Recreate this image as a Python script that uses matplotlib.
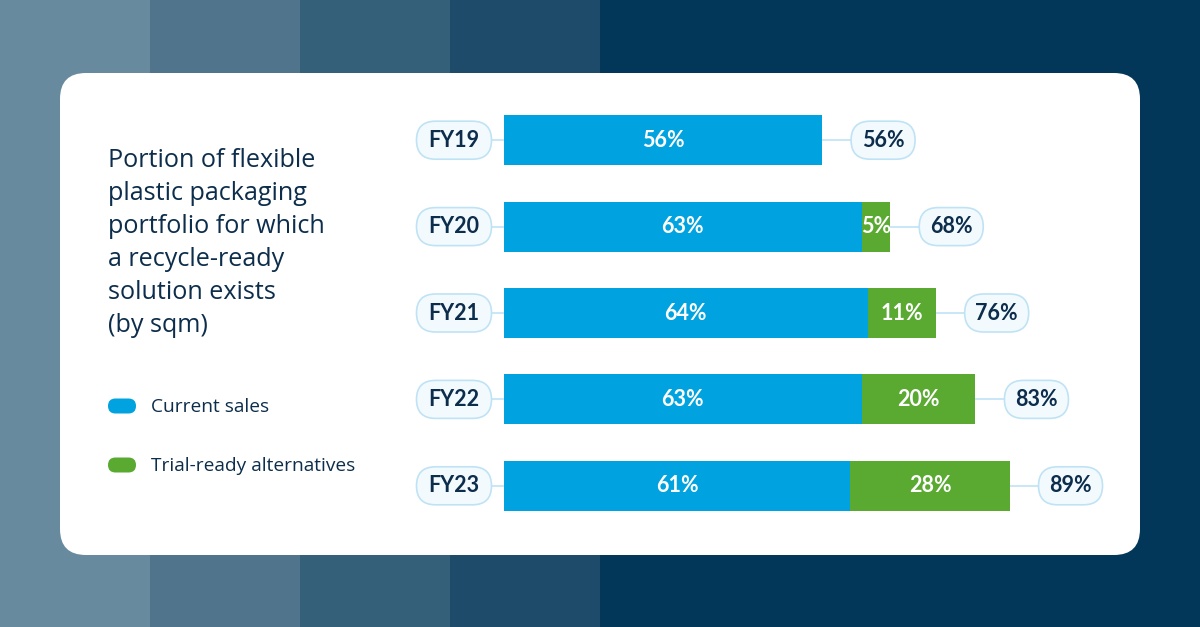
import matplotlib
matplotlib.use('Agg')
import matplotlib.pyplot as plt
from matplotlib.patches import Rectangle, FancyBboxPatch

plt.rcParams['font.family'] = ['Lato', 'DejaVu Sans']

# ── Data ──────────────────────────────────────────────────────────────────────
years = ['FY19', 'FY20', 'FY21', 'FY22', 'FY23']
current = [56, 63, 64, 63, 61]
trial = [0, 5, 11, 20, 28]
totals = [56, 68, 76, 83, 89]

title_lines = ['Portion of flexible', 'plastic packaging', 'portfolio for which',
               'a recycle-ready', 'solution exists', '(by sqm)']
legend_labels = ['Current sales', 'Trial-ready alternatives']

BLUE = '#00A3E0'
GREEN = '#5AAA32'
NAVY = '#0C2D4B'
PILL_FC = '#F3FAFE'
PILL_EC = '#BFE3F5'
BODY_FONT = ['Open Sans', 'DejaVu Sans']

W, H = 1200, 627
fig = plt.figure(figsize=(W / 100, H / 100), dpi=100)

# ── Background (pixel coords) ─────────────────────────────────────────────────
bg = fig.add_axes([0, 0, 1, 1])
bg.set_xlim(0, W); bg.set_ylim(H, 0); bg.axis('off')
for x0, x1, c in [(0, 150, '#688A9F'), (150, 300, '#50748B'), (300, 450, '#356079'),
                  (450, 600, '#1E4B6A'), (600, 1200, '#02375A')]:
    bg.add_patch(Rectangle((x0, 0), x1 - x0, H, color=c, lw=0))
bg.add_patch(FancyBboxPatch((60, 73), 1080, 482, boxstyle='round,pad=0,rounding_size=26',
                            fc='white', ec='none'))

for k, line in enumerate(title_lines):
    bg.text(108, 167 + 33 * k, line, fontsize=18.1, color=NAVY, va='baseline',
            ha='left', family=BODY_FONT)
for yy, lab, c in [(406, legend_labels[0], BLUE), (465, legend_labels[1], GREEN)]:
    bg.add_patch(FancyBboxPatch((108, yy - 7.5), 28, 15, boxstyle='round,pad=0,rounding_size=7.5',
                                fc=c, ec='none'))
    bg.text(151, yy + 1, lab, fontsize=13.8, color=NAVY, va='center', ha='left',
            family=BODY_FONT)

# ── Bars ──────────────────────────────────────────────────────────────────────
ax_px = (504, 97, 568, 432)  # left, top, width, height in pixels
ax = fig.add_axes([ax_px[0] / W, (H - ax_px[1] - ax_px[3]) / H, ax_px[2] / W, ax_px[3] / H])
ax.set_xlim(0, 100); ax.set_ylim(len(years) - 0.5, -0.5); ax.axis('off')
ypos = list(range(len(years)))
bh = 0.58
ax.barh(ypos, current, height=bh, color=BLUE, zorder=3)
ax.barh(ypos, [t - c for t, c in zip(totals, current)], left=current, height=bh,
        color=GREEN, zorder=3)

# pill geometry: px per data unit in x / y
sx = ax_px[2] / 100
sy = ax_px[3] / len(years)
pill_h = 38 / sy


def pill(xc, yc, w_px, text):
    w = w_px / sx
    p = FancyBboxPatch((xc - w / 2, yc - pill_h / 2), w, pill_h,
                       boxstyle=f'round,pad=0,rounding_size={19 / sx}',
                       mutation_aspect=sx / sy, fc=PILL_FC, ec=PILL_EC, lw=1.2,
                       zorder=2, clip_on=False)
    ax.add_patch(p)
    ax.text(xc, yc, text, color=NAVY, fontsize=15.5, fontweight='bold',
            ha='center', va='center', zorder=3, clip_on=False)


for i, (yr, c, t, tot) in enumerate(zip(years, current, trial, totals)):
    ax.text(c / 2, i, f'{c}%', color='white', fontsize=15.5, fontweight='bold',
            ha='center', va='center', zorder=4)
    if t:
        ax.text(c + (tot - c) / 2, i, f'{t}%', color='white', fontsize=15.5,
                fontweight='bold', ha='center', va='center', zorder=4)
    yx = -50 / sx
    ax.plot([yx, 0], [i, i], color=PILL_EC, lw=1.2, zorder=1, clip_on=False)
    pill(yx, i, 75, yr)
    px = tot + (29 + 32) / sx
    ax.plot([tot, px], [i, i], color=PILL_EC, lw=1.2, zorder=1, clip_on=False)
    pill(px, i, 64, f'{tot}%')

fig.savefig('out.png', dpi=100)
